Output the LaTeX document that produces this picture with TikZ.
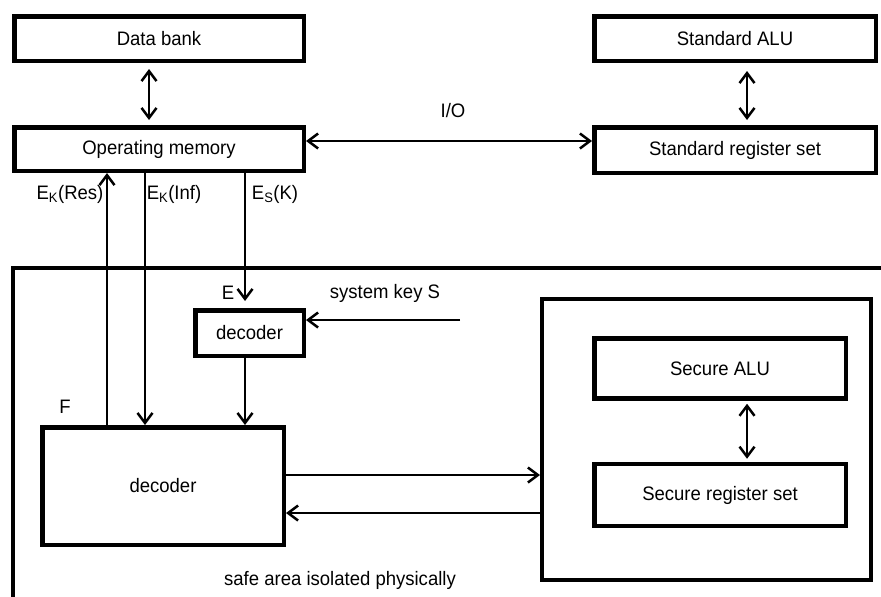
\documentclass[tikz,border=0pt]{standalone}
\usepackage{fontspec}
\setmainfont{Liberation Sans}[FakeStretch=0.95]
\usetikzlibrary{arrows.meta}
\begin{document}
\begin{tikzpicture}[x=1pt,y=-1pt,
  txt/.style={font=\fontsize{19.5}{23}\selectfont},
  box/.style={draw, line width=4.5pt, inner sep=0pt, txt},
  lbl/.style={txt, inner sep=0pt},
  tip/.tip={Straight Barb[length=10pt,width=15pt]},
  conn/.style={line width=2.5pt, -tip},
  dconn/.style={line width=2.5pt, tip-tip}]
\useasboundingbox (0,0) rectangle (881,597);
\clip (0,0) rectangle (881,597);

% physically isolated region
\draw[line width=4pt] (13,650) -- (13,268) -- (950,268);

% unprotected part
\node[box, minimum width=289.5pt, minimum height=44.5pt] (bank) at (159,38.5) {Data bank};
\node[box, minimum width=289.5pt, minimum height=43.5pt] (om) at (159,149) {Operating memory};
\node[box, minimum width=281.5pt, minimum height=44.5pt] (salu) at (735,38.5) {Standard ALU};
\node[box, minimum width=281.5pt, minimum height=45.5pt] (sreg) at (735,150) {Standard register set};

% protected part
\node[box, minimum width=108.5pt, minimum height=45.5pt] (sdec) at (249.5,333) {decoder};
\node[box, minimum width=241.5pt, minimum height=117.5pt] (dec) at (163,486) {decoder};
\node[box, line width=4pt, minimum width=329pt, minimum height=281pt] (secure) at (706.5,439.5) {};
\node[box, minimum width=251.5pt, minimum height=60pt] (calu) at (720,368.5) {Secure ALU};
\node[box, minimum width=251.5pt, minimum height=62pt] (creg) at (720,495) {Secure register set};

% x / y positions of the connectors
\coordinate (xbank) at (149,0);
\coordinate (xstd) at (747,0);
\coordinate (xres) at (107,0);
\coordinate (xinf) at (145,0);
\coordinate (xkey) at (245,0);
\coordinate (yio) at (0,141);
\coordinate (keyin) at (460,320);
\coordinate (yout) at (0,475);
\coordinate (yback) at (0,513);

% connectors
\draw[dconn, shorten <=6pt, shorten >=5pt] (bank.south -| xbank) -- (om.north -| xbank);
\draw[dconn, shorten <=8pt, shorten >=5pt] (salu.south -| xstd) -- (sreg.north -| xstd);
\draw[dconn] (om.east |- yio) -- (sreg.west |- yio);
\draw[conn] (dec.north -| xres) -- (om.south -| xres);
\draw[conn] (om.south -| xinf) -- (dec.north -| xinf);
\draw[conn, shorten >=7pt] (om.south -| xkey) -- (sdec.north -| xkey);
\draw[conn] (sdec.south -| xkey) -- (dec.north -| xkey);
\draw[conn] (keyin) -- (keyin -| sdec.east);
\draw[conn] (dec.east |- yout) -- (secure.west |- yout);
\draw[conn] (secure.west |- yback) -- (dec.east |- yback);
\draw[dconn, shorten <=3pt, shorten >=3pt] (calu.south -| xstd) -- (creg.north -| xstd);

% labels
\node[lbl] (lio) at (453,111) {I/O};
\node[lbl] (lres) at (70,194) {E\textsubscript{K}(Res)};
\node[lbl] (linf) at (174,194) {E\textsubscript{K}(Inf)};
\node[lbl] (lsk) at (275,194) {E\textsubscript{S}(K)};
\node[lbl] (le) at (228,293) {E};
\node[lbl] (lkey) at (385,293) {system key S};
\node[lbl] (lf) at (65,407) {F};
\node[lbl] (lsafe) at (340,580) {safe area isolated physically};
\end{tikzpicture}
\end{document}
